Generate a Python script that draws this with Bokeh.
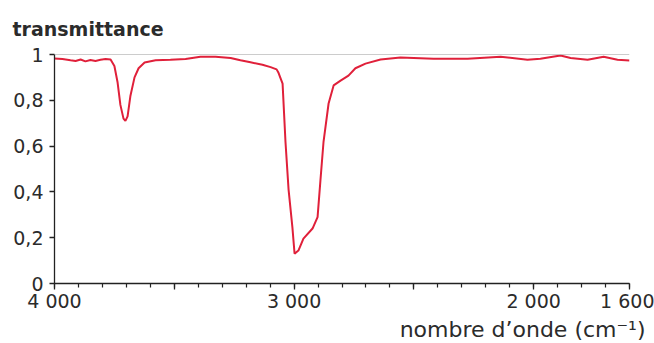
from bokeh.plotting import figure
from bokeh.models import Range1d, FixedTicker, Span, Title
from bokeh.embed import file_html
from bokeh.resources import INLINE

# wavenumber (cm-1) and transmittance
wavenumber = [4000, 3967, 3933, 3912, 3891, 3871, 3850, 3829, 3808, 3787, 3766,
              3750, 3737, 3725, 3712, 3704, 3695, 3683, 3666, 3649, 3624, 3578,
              3516, 3453, 3391, 3328, 3265, 3224, 3182, 3132, 3098, 3073, 3065,
              3048, 3036, 3023, 3007, 2998, 2982, 2961, 2923, 2902, 2890, 2877,
              2856, 2835, 2806, 2773, 2744, 2702, 2639, 2556, 2418, 2276, 2138,
              2026, 1972, 1888, 1846, 1775, 1708, 1650, 1600]
transmittance = [0.983, 0.980, 0.975, 0.972, 0.978, 0.970, 0.976, 0.972, 0.977, 0.980, 0.978,
                 0.950, 0.880, 0.780, 0.720, 0.710, 0.730, 0.820, 0.900, 0.940, 0.965, 0.975,
                 0.977, 0.980, 0.990, 0.990, 0.985, 0.975, 0.966, 0.955, 0.945, 0.935, 0.920,
                 0.873, 0.620, 0.410, 0.245, 0.130, 0.144, 0.196, 0.240, 0.290, 0.450, 0.620,
                 0.786, 0.865, 0.886, 0.908, 0.940, 0.960, 0.978, 0.987, 0.981, 0.981, 0.990,
                 0.977, 0.981, 0.996, 0.985, 0.977, 0.990, 0.977, 0.974]

x_ticks = [4000, 3500, 3000, 2500, 2000, 1600]
x_tick_labels = ["4 000", "", "3 000", "", "2 000", "1 600"]
y_ticks = [0, 0.2, 0.4, 0.6, 0.8, 1]
y_tick_labels = ["0", "0,2", "0,4", "0,6", "0,8", "1"]

FONT = "DejaVu Sans"
TXT = "#2b2b2b"

p = figure(width=654, height=343, output_backend="svg", toolbar_location=None,
           x_range=Range1d(4000, 1600), y_range=Range1d(0, 1),
           min_border_left=54, min_border_right=25, min_border_top=54, min_border_bottom=60)
p.outline_line_color = None
p.grid.visible = False
p.background_fill_color = "white"
p.border_fill_color = "white"

p.line(wavenumber, transmittance, line_color="#e0203a", line_width=2)

p.add_layout(Span(location=1, dimension="width", line_color="#9a9a9a", line_width=1))

xa = p.xaxis[0]
xa.ticker = FixedTicker(ticks=x_ticks, minor_ticks=list(range(1600, 4001, 100)))
xa.major_label_overrides = {t: l for t, l in zip(x_ticks, x_tick_labels)}
xa.major_tick_out = 6
xa.major_tick_in = 0
xa.minor_tick_out = 4
xa.minor_tick_in = 0
xa.axis_line_color = "#222222"
xa.axis_line_width = 1.3
xa.major_tick_line_color = "#222222"
xa.major_tick_line_width = 1.3
xa.minor_tick_line_color = "#222222"
xa.minor_tick_line_width = 1.2
xa.major_label_text_font = FONT
xa.major_label_text_font_size = "19px"
xa.major_label_text_color = TXT
xa.major_label_standoff = 0

ya = p.yaxis[0]
ya.ticker = FixedTicker(ticks=y_ticks, minor_ticks=[])
ya.major_label_overrides = {t: l for t, l in zip(y_ticks, y_tick_labels)}
ya.major_tick_out = 5
ya.major_tick_in = 0
ya.axis_line_color = "#222222"
ya.axis_line_width = 1.3
ya.major_tick_line_color = "#222222"
ya.major_tick_line_width = 1.3
ya.major_label_text_font = FONT
ya.major_label_text_font_size = "19px"
ya.major_label_text_color = TXT
ya.major_label_standoff = 6

# y-axis name, top-left
p.title.text = "transmittance"
p.title.align = "left"
p.title.offset = -42
p.title.text_font = FONT
p.title.text_font_size = "19px"
p.title.text_font_style = "bold"
p.title.text_color = TXT
p.title.standoff = 30

# x-axis name, bottom-right
p.add_layout(Title(text="nombre d\u2019onde (cm\u207b\u00b9)", align="right", offset=-16,
                   text_font=FONT, text_font_size="22px", text_font_style="normal",
                   text_color=TXT, standoff=1), "below")

open("out.html", "w").write(file_html(p, INLINE))
